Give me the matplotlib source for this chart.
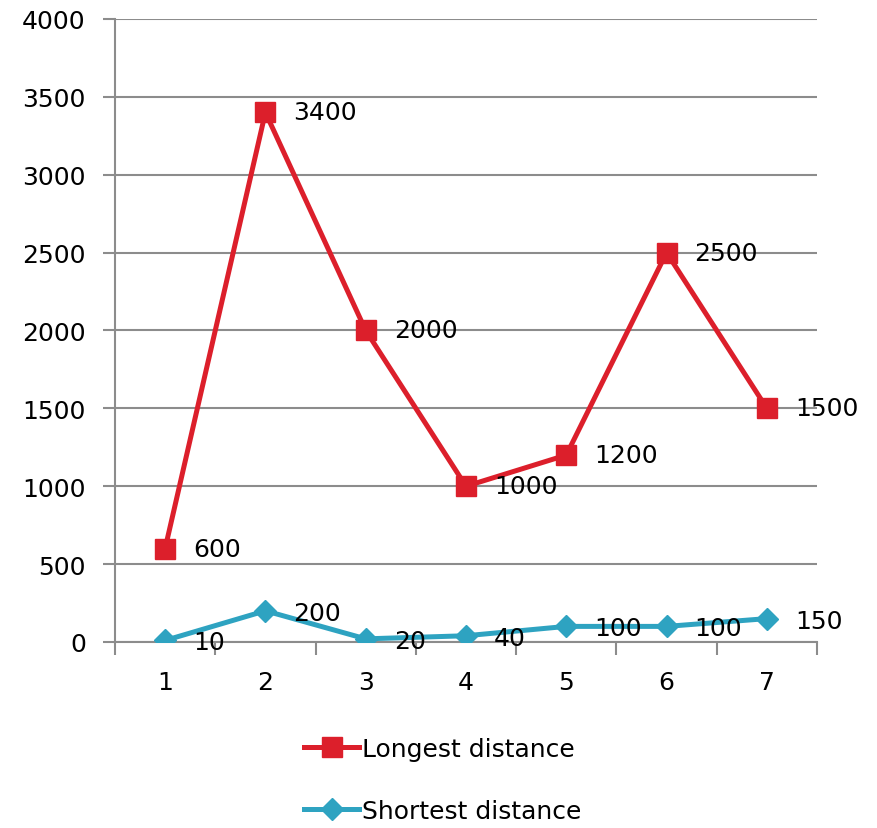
import matplotlib
matplotlib.use("Agg")
import matplotlib.pyplot as plt
from matplotlib.lines import Line2D

categories = [1, 2, 3, 4, 5, 6, 7]
longest = [600, 3400, 2000, 1000, 1200, 2500, 1500]
shortest = [10, 200, 20, 40, 100, 100, 150]
series_names = ["Longest distance", "Shortest distance"]
y_ticks = [0, 500, 1000, 1500, 2000, 2500, 3000, 3500, 4000]

RED = "#DC1F2B"
BLUE = "#2EA3C1"
GRID = "#8C8C8C"
FS = 18

fig = plt.figure(figsize=(8.77, 8.29), dpi=100)
ax = fig.add_axes([0.1311, 0.2244, 0.8005, 0.7515])

ax.plot(categories, longest, color=RED, lw=3.6, marker="s", ms=14, zorder=3)
ax.plot(categories, shortest, color=BLUE, lw=3.6, marker="D", ms=11, zorder=3)

# value labels sit just to the right of each point
for x, v in zip(categories, longest):
    ax.annotate(str(v), (x, v), xytext=(28, 0), textcoords="offset pixels",
                va="center", ha="left", fontsize=FS, zorder=4)
for x, v in zip(categories, shortest):
    ax.annotate(str(v), (x, v), xytext=(28, -2), textcoords="offset pixels",
                va="center", ha="left", fontsize=FS, zorder=4)

ax.set_xlim(0.5, 7.5)
ax.set_ylim(0, 4000)
ax.set_yticks(y_ticks)
ax.set_yticklabels([str(t) for t in y_ticks], fontsize=FS)
ax.set_xticks(categories)
ax.set_xticklabels([str(c) for c in categories], fontsize=FS)
# tick marks between categories, labels centred on them
ax.set_xticks([c - 0.5 for c in categories] + [7.5], minor=True)
ax.tick_params(axis="x", which="major", length=0, pad=20)
ax.tick_params(axis="x", which="minor", length=9, width=1.5, color=GRID)
ax.tick_params(axis="y", length=9, width=1.5, color=GRID, pad=12)

ax.grid(axis="y", color=GRID, lw=1.5)
ax.set_axisbelow(True)
for side in ["top", "right"]:
    ax.spines[side].set_visible(False)
ax.spines["left"].set_color(GRID)
ax.spines["left"].set_linewidth(1.5)
ax.spines["bottom"].set_color(GRID)
ax.spines["bottom"].set_linewidth(1.5)

handles = [
    Line2D([], [], color=RED, lw=3.6, marker="s", ms=14),
    Line2D([], [], color=BLUE, lw=3.6, marker="D", ms=11),
]
fig.legend(handles, series_names, loc="center", bbox_to_anchor=(0.505, 0.058),
           frameon=False, fontsize=FS, handlelength=2.2, handletextpad=0.1,
           labelspacing=1.5)

fig.savefig("out.png", dpi=100, facecolor="white")
